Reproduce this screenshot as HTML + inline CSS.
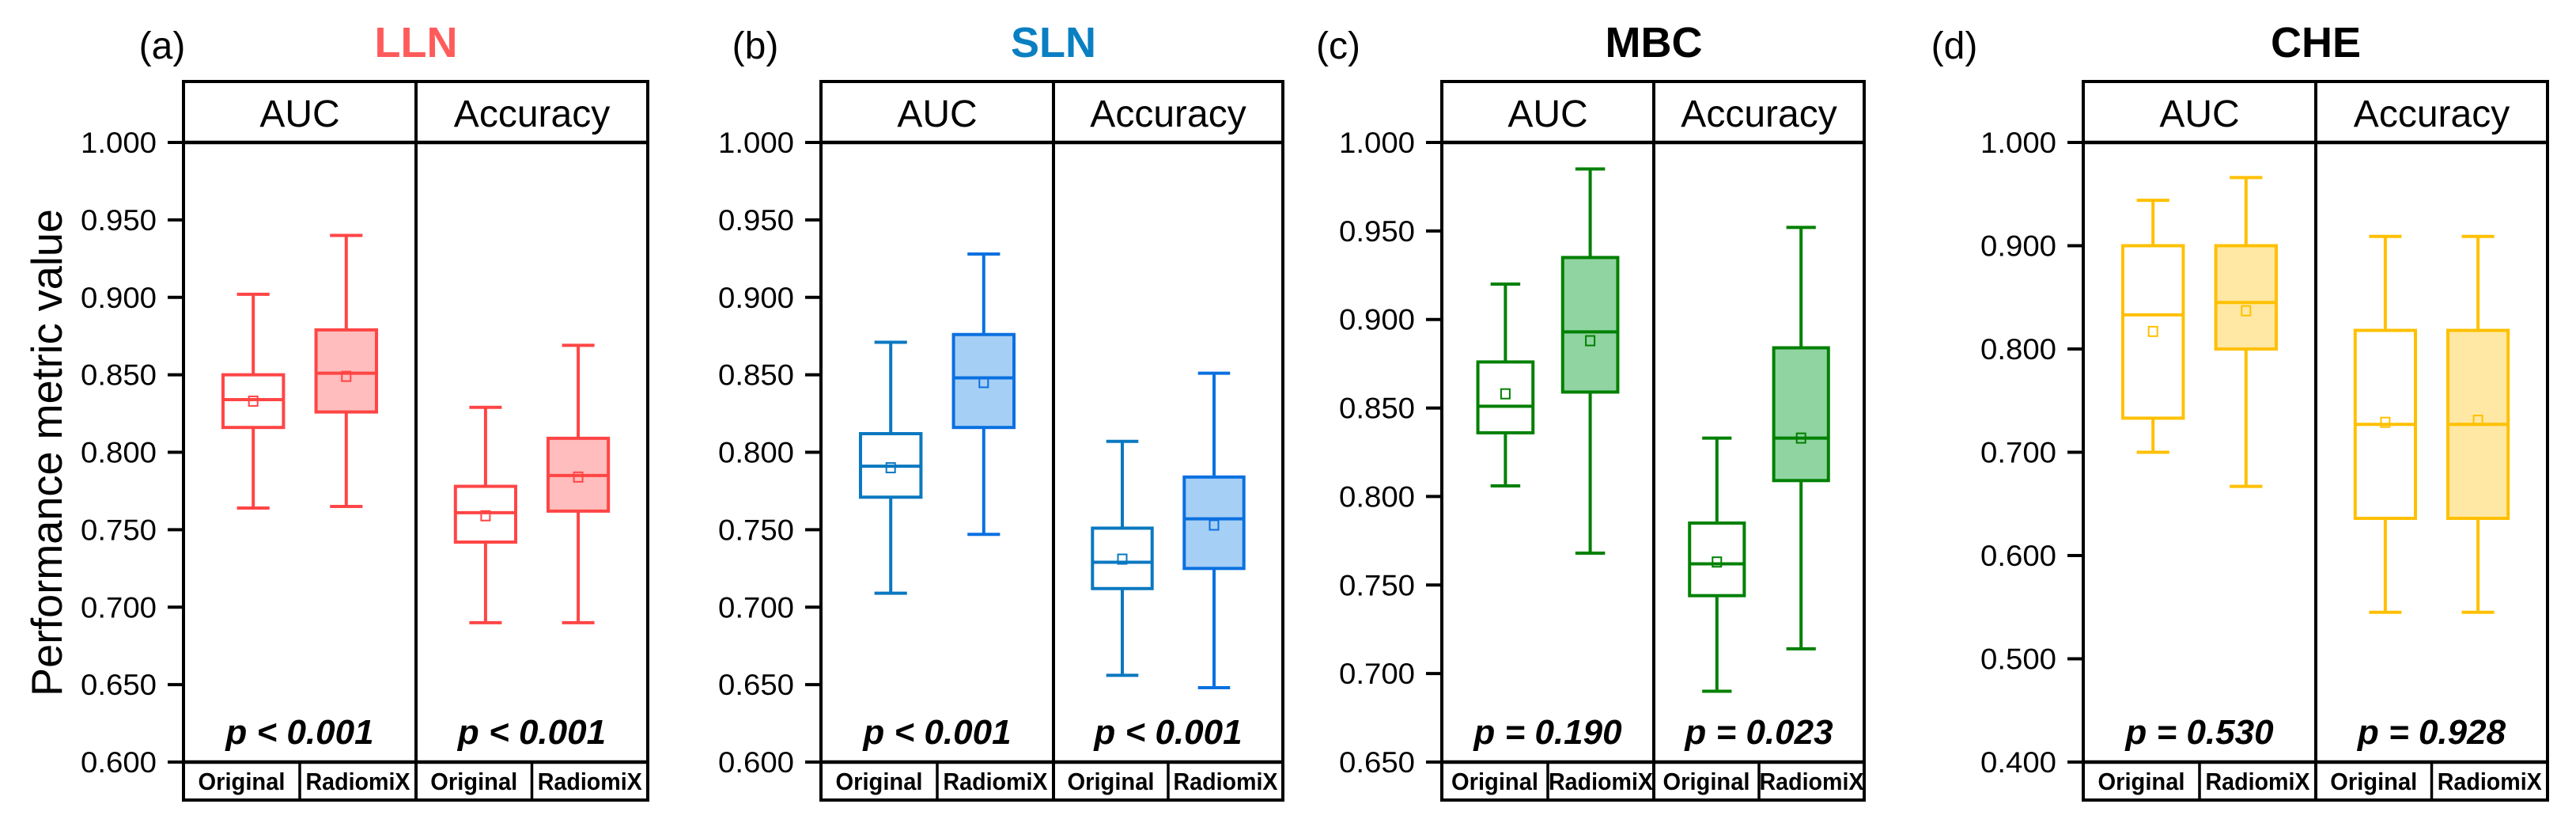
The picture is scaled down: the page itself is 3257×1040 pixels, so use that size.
<!DOCTYPE html>
<html><head><meta charset="utf-8"><style>
html,body{margin:0;padding:0;background:#fff;}
svg{display:block;font-family:"Liberation Sans",Arial,sans-serif;}
</style></head><body>
<svg id="chart" width="3257" height="1040" viewBox="0 0 3257 1040" xmlns="http://www.w3.org/2000/svg"></svg>
<script>
// ---- data ----
const panelLabels = ["(a)","(b)","(c)","(d)"];
const panelTitles = ["LLN","SLN","MBC","CHE"];
const metrics = ["AUC","Accuracy"];
const groups = ["Original","RadiomiX"];
const yMin = [0.6,0.6,0.65,0.4];
const yMax = [1.0,1.0,1.0,1.0];
const yStep = [0.05,0.05,0.05,0.1];
const pTexts = [["p < 0.001","p < 0.001"],["p < 0.001","p < 0.001"],["p = 0.190","p = 0.023"],["p = 0.530","p = 0.928"]];
// per panel, per metric, per group: [whiskerLow, q1, median, q3, whiskerHigh]
const boxStats = [
 [[[0.764,0.816,0.834,0.850,0.902],[0.765,0.826,0.851,0.879,0.940]],
  [[0.690,0.742,0.761,0.778,0.829],[0.690,0.762,0.785,0.809,0.869]]],
 [[[0.709,0.771,0.791,0.812,0.871],[0.747,0.816,0.848,0.876,0.928]],
  [[0.656,0.712,0.729,0.751,0.807],[0.648,0.725,0.757,0.784,0.851]]],
 [[[0.806,0.836,0.851,0.876,0.920],[0.768,0.859,0.893,0.935,0.985]],
  [[0.690,0.744,0.762,0.785,0.833],[0.714,0.809,0.833,0.884,0.952]]],
 [[[0.700,0.733,0.833,0.900,0.944],[0.667,0.800,0.845,0.900,0.966]],
  [[0.545,0.636,0.727,0.818,0.909],[0.545,0.636,0.727,0.818,0.909]]]
];
const means = [[[0.833,0.849],[0.759,0.784]],[[0.790,0.845],[0.731,0.753]],[[0.858,0.888],[0.763,0.833]],[[0.817,0.837],[0.729,0.731]]];

// ---- layout ----
const frames = [[232,526,819],[1038,1332,1622],[1823,2091,2357],[2634,2928,3221]];
const labelX = [205,955,1692,2471];
const titleColors = ["#ff5b5b","#0a7fc2","#000","#000"];
const strokeCols = [["#ff4545","#ff4545"],["#0a78c0","#0a70e0"],["#008000","#008000"],["#ffc000","#ffc000"]];
const fillCols = ["#ffbdbd","#a6cff5","#90d4a2","#ffe8a3"];
const TOP=103, PT=180, PB=963, BOT=1011;
const NS="http://www.w3.org/2000/svg";
const svg=document.getElementById('chart');
function el(tag,attrs,parent,text){const e=document.createElementNS(NS,tag);for(const k in attrs)e.setAttribute(k,attrs[k]);if(text!==undefined)e.textContent=text;(parent||svg).appendChild(e);return e;}

const yt=el('text',{x:0,y:0,'font-size':55,'text-anchor':'middle',transform:'translate(78,572) rotate(-90)',textLength:616,lengthAdjust:'spacingAndGlyphs'},svg,'Performance metric value');



for(let p=0;p<4;p++){
  const [L,M,R]=frames[p];
  const g=el('g',{});
  
  
  const yS=v=>PB-(v-yMin[p])/(yMax[p]-yMin[p])*(PB-PT);
  const lab=el('text',{x:labelX[p],y:74,'font-size':48,'text-anchor':'middle'},g,panelLabels[p]);
  
  
  const tt=el('text',{x:M,y:72,'font-size':54,'font-weight':'bold','text-anchor':'middle',fill:titleColors[p]},g,panelTitles[p]);
  
  
  const n=Math.round((yMax[p]-yMin[p])/yStep[p]);
  for(let i=0;i<=n;i++){
    const v=yMin[p]+i*yStep[p], y=yS(v);
    const tk=el('line',{x1:L-20,x2:L,y1:y,y2:y,stroke:'#000','stroke-width':4},g);
    
    
    const tl=el('text',{x:L-34,y:y+13,'font-size':37,'text-anchor':'end',textLength:96,lengthAdjust:'spacingAndGlyphs'},g,v.toFixed(3));
    
    
  }
  const fr=el('rect',{x:L,y:TOP,width:R-L,height:BOT-TOP,fill:'none',stroke:'#000','stroke-width':4},g);
  
  
  el('line',{x1:L,x2:R,y1:PT,y2:PT,stroke:'#000','stroke-width':4.5},g);
  el('line',{x1:L,x2:R,y1:PB,y2:PB,stroke:'#000','stroke-width':4.5},g);
  el('line',{x1:M,x2:M,y1:TOP,y2:BOT,stroke:'#000','stroke-width':4},g);
  for(let m=0;m<2;m++){
    const a=m?M:L,b=m?R:M,w=b-a;
    const h=el('text',{x:(a+b)/2,y:160,'font-size':48,'text-anchor':'middle'},g,metrics[m]);
    
    
    const pt=el('text',{x:(a+b)/2,y:940,'font-size':44,'font-weight':'bold','font-style':'italic','text-anchor':'middle'},g,pTexts[p][m]);
    
    
    el('line',{x1:a+w/2,x2:a+w/2,y1:PB,y2:BOT,stroke:'#000','stroke-width':3.5},g);
    for(let k=0;k<2;k++){
      const gl=el('text',{x:a+w*(0.25+0.5*k),y:998,'font-size':31,'font-weight':'bold','text-anchor':'middle',textLength:k?132:110,lengthAdjust:'spacingAndGlyphs'},g,groups[k]);
      
      
      const s=boxStats[p][m][k], cx=a+w*(0.3+0.4*k), bw=w*0.26, cw=w*0.14;
      const col=strokeCols[p][k];
      const bg=el('g',{stroke:col,'stroke-width':4},g);
      
      
      el('line',{x1:cx,x2:cx,y1:yS(s[0]),y2:yS(s[1])},bg);
      el('line',{x1:cx,x2:cx,y1:yS(s[3]),y2:yS(s[4])},bg);
      el('line',{x1:cx-cw/2,x2:cx+cw/2,y1:yS(s[0]),y2:yS(s[0])},bg);
      el('line',{x1:cx-cw/2,x2:cx+cw/2,y1:yS(s[4]),y2:yS(s[4])},bg);
      el('rect',{x:cx-bw/2,y:yS(s[3]),width:bw,height:yS(s[1])-yS(s[3]),fill:k?fillCols[p]:'#fff'},bg);
      el('line',{x1:cx-bw/2,x2:cx+bw/2,y1:yS(s[2]),y2:yS(s[2])},bg);
      const mk=el('rect',{x:cx-5.5,y:yS(means[p][m][k])-6,width:11,height:12,fill:'none','stroke-width':2},bg);
      
      
    }
  }
}
</script>
</body></html>
